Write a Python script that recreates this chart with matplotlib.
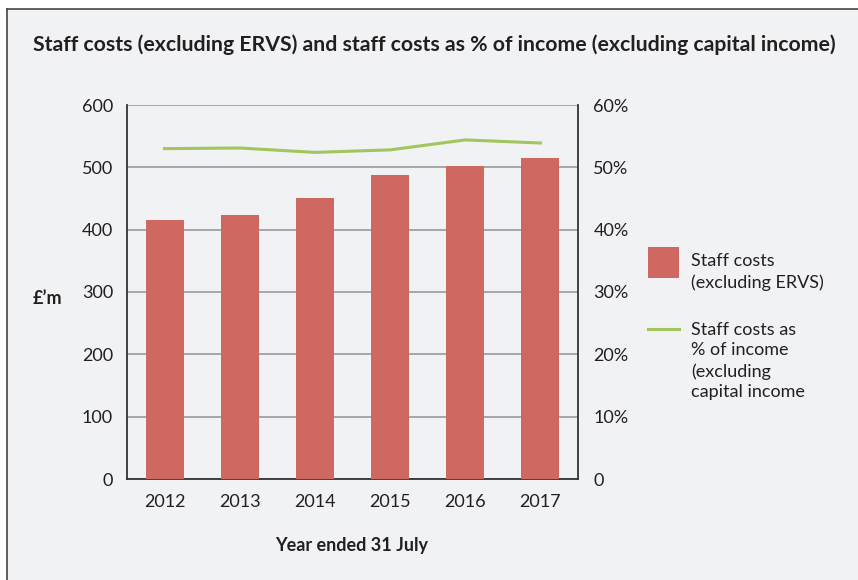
import matplotlib
matplotlib.use("Agg")
import matplotlib.pyplot as plt
from matplotlib.lines import Line2D
from matplotlib.patches import Rectangle

plt.rcParams["font.family"] = ["Lato", "DejaVu Sans"]

years = ["2012", "2013", "2014", "2015", "2016", "2017"]
staff_costs = [415, 423, 451, 488, 502, 515]
pct_income = [53.0, 53.1, 52.4, 52.8, 54.4, 53.9]

bar_color = "#d06862"
line_color = "#a3c55d"
bg = "#f1f2f4"
text_color = "#231f20"

W, H = 858, 580
fig = plt.figure(figsize=(W / 100, H / 100), dpi=100)
fig.patch.set_facecolor("white")

# panel background with border on top and left
fig.patches.append(Rectangle((7 / W, 0), 1, 1 - 9 / H, transform=fig.transFigure,
                             facecolor=bg, edgecolor="none", zorder=-10))
fig.lines.append(Line2D([7 / W, 7 / W], [0, 1 - 9 / H], transform=fig.transFigure,
                        color="#444444", lw=1.2, zorder=-5))
fig.lines.append(Line2D([7 / W, 1], [1 - 9 / H, 1 - 9 / H], transform=fig.transFigure,
                        color="#444444", lw=1.2, zorder=-5))

left, right, top, bottom = 127, 578, 105, 479
ax = fig.add_axes([left / W, 1 - bottom / H, (right - left) / W, (bottom - top) / H])
ax.set_facecolor(bg)

x = list(range(len(years)))
ax.bar(x, staff_costs, width=0.505, color=bar_color, zorder=3)
ax.set_xlim(-0.5, len(years) - 0.5)
ax.set_ylim(0, 600)
ax.set_yticks(range(0, 601, 100))
ax.set_xticks(x)
ax.set_xticklabels(years)
ax.grid(axis="y", color="#9a9a9a", lw=1.2, zorder=1)
ax.tick_params(length=0, labelsize=13, colors=text_color, pad=10)
ax.tick_params(axis="x", pad=11)
for s in ["left", "right", "bottom"]:
    ax.spines[s].set_color("#333333")
    ax.spines[s].set_linewidth(1.3)
ax.spines["top"].set_visible(False)

ax2 = ax.twinx()
ax2.plot(x, pct_income, color=line_color, lw=2.2, zorder=4)
ax2.set_ylim(0, 60)
ax2.set_yticks(range(0, 61, 10))
ax2.set_yticklabels(["0"] + [f"{v}%" for v in range(10, 61, 10)])
ax2.tick_params(length=0, labelsize=13, colors=text_color, pad=11)
for s in ax2.spines.values():
    s.set_visible(False)

fig.text(33 / W, 1 - 45 / H, "Staff costs (excluding ERVS) and staff costs as % of income (excluding capital income)",
         fontsize=15.3, fontweight="bold", color=text_color, va="center", ha="left")
fig.text(33 / W, 1 - 298 / H, "£’m", fontsize=13, fontweight="bold", color=text_color,
         va="center", ha="left")
fig.text(352 / W, 1 - 545 / H, "Year ended 31 July", fontsize=13, fontweight="bold",
         color=text_color, va="center", ha="center")

# legend
fig.patches.append(Rectangle((648 / W, 1 - 278 / H), 31 / W, 31 / H, transform=fig.transFigure,
                             facecolor=bar_color, edgecolor="none"))
fig.text(691 / W, 1 - 272 / H, "Staff costs\n(excluding ERVS)", fontsize=13,
         color=text_color, va="center", ha="left", linespacing=1.36)
fig.lines.append(Line2D([648 / W, 679 / W], [1 - 329 / H, 1 - 329 / H], transform=fig.transFigure,
                        color=line_color, lw=2.2))
fig.text(691 / W, 1 - 361 / H, "Staff costs as\n% of income\n(excluding\ncapital income",
         fontsize=13, color=text_color, va="center", ha="left", linespacing=1.36)

fig.savefig("out.png", dpi=100, facecolor=fig.get_facecolor())
